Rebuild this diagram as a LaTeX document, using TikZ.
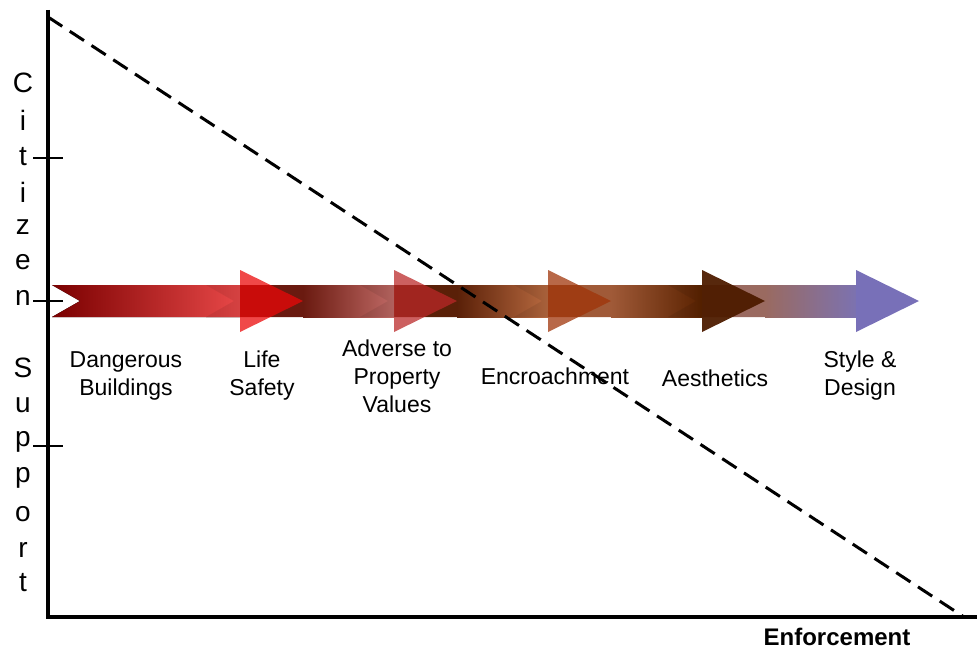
\documentclass[tikz,border=0pt]{standalone}
\usepackage{fontspec}
\setmainfont{Liberation Sans}
\definecolor{bAs}{HTML}{7A0000}\definecolor{bAe}{HTML}{E84848}
\definecolor{bBs}{HTML}{6A1A10}\definecolor{bBe}{HTML}{C06A66}
\definecolor{bCs}{HTML}{5A2008}\definecolor{bCe}{HTML}{B86A40}
\definecolor{bDs}{HTML}{A05A38}\definecolor{bDe}{HTML}{5A2200}
\definecolor{bEs}{HTML}{9A6A60}\definecolor{bEe}{HTML}{7C72B0}
\definecolor{hA}{HTML}{EB0808}\definecolor{hB}{HTML}{BA2828}
\definecolor{hC}{HTML}{9F3308}\definecolor{hD}{HTML}{4E1C00}
\definecolor{hE}{HTML}{7870B8}
\begin{document}
\begin{tikzpicture}[x=1pt,y=-1pt,
  axisline/.style={line width=4pt},
  tickline/.style={line width=1.1pt},
  dashline/.style={line width=3pt,dash pattern=on 17pt off 9pt},
  lbl/.style={font=\fontsize{23}{28}\selectfont,align=center,inner sep=0pt},
  axlet/.style={font=\fontsize{28}{30}\selectfont,inner sep=0pt},
  notchshade/.style={fill=black,fill opacity=0.08},
  headfill/.style={fill opacity=0.74}]
\useasboundingbox (0,0) rectangle (977,650);
% bodies, drawn from last to first
% arrow 5
\fill[bEs] (668,285) -- (766,285) -- (766,317) -- (668,317) -- (696,301) -- cycle;
\fill[left color=bEs,right color=bEe] (765,285) rectangle (856,317);
% arrow 4
\fill[bDs] (514,285) -- (612,285) -- (612,317) -- (514,317) -- (542,301) -- cycle;
\fill[left color=bDs,right color=bDe] (611,285) rectangle (702,317);
\fill[notchshade] (668,285) -- (702,285) -- (702,317) -- (668,317) -- (696,301) -- cycle;
% arrow 3
\fill[bCs] (360,285) -- (458,285) -- (458,317) -- (360,317) -- (388,301) -- cycle;
\fill[left color=bCs,right color=bCe] (457,285) rectangle (548,317);
\fill[notchshade] (514,285) -- (548,285) -- (548,317) -- (514,317) -- (542,301) -- cycle;
% arrow 2
\fill[bBs] (206,285) -- (304,285) -- (304,317) -- (206,317) -- (234,301) -- cycle;
\fill[left color=bBs,right color=bBe] (303,285) rectangle (394,317);
\fill[notchshade] (360,285) -- (394,285) -- (394,317) -- (360,317) -- (388,301) -- cycle;
% arrow 1
\fill[left color=bAs,right color=bAe] (52,285) -- (240,285) -- (240,317) -- (52,317) -- (80,301) -- cycle;
\fill[notchshade] (206,285) -- (240,285) -- (240,317) -- (206,317) -- (234,301) -- cycle;
% heads
\fill[hA,headfill] (240,270) -- (303,301) -- (240,332) -- cycle;
\fill[hB,headfill] (394,270) -- (457,301) -- (394,332) -- cycle;
\fill[hC,headfill] (548,270) -- (611,301) -- (548,332) -- cycle;
\fill[hD,fill opacity=0.95] (702,270) -- (765,301) -- (702,332) -- cycle;
\fill[hE] (856,270) -- (919,301) -- (856,332) -- cycle;
% axes
\coordinate (Ytop) at (48,10);
\coordinate (O) at (48,617);
\coordinate (Xend) at (977,617);
\draw[axisline] (Ytop) -- (O) -- (Xend);
\coordinate (T1a) at (33,158); \coordinate (T1b) at (63,158);
\coordinate (T2a) at (33,301); \coordinate (T2b) at (63,301);
\coordinate (T3a) at (33,446); \coordinate (T3b) at (63,446);
\draw[tickline] (T1a) -- (T1b);
\draw[tickline] (T2a) -- (T2b);
\draw[tickline] (T3a) -- (T3b);
% dashed line
\coordinate (D1) at (48,17);
\coordinate (D2) at (964,617);
\draw[dashline] (D1) -- (D2);
% axis letters
\node[axlet] (c1) at (23,83) {C};
\node[axlet] (c2) at (23,120) {i};
\node[axlet] (c3) at (23,157) {t};
\node[axlet] (c4) at (23,192) {i};
\node[axlet] (c5) at (23,227) {z};
\node[axlet] (c6) at (23,262) {e};
\node[axlet] (c7) at (23,298) {n};
\node[axlet] (s1) at (23,368) {S};
\node[axlet] (s2) at (23,405) {u};
\node[axlet] (s3) at (23,442) {p};
\node[axlet] (s4) at (23,478) {p};
\node[axlet] (s5) at (23,514) {o};
\node[axlet] (s6) at (23,550) {r};
\node[axlet] (s7) at (23,583) {t};
% labels
\node[lbl] (l1) at (126,376) {Dangerous\\Buildings};
\node[lbl] (l2) at (262,376) {Life\\Safety};
\node[lbl] (l3) at (397,376) {Adverse to\\Property\\Values};
\node[lbl] (l4) at (555,376) {Encroachment};
\node[lbl] (l5) at (715,378) {Aesthetics};
\node[lbl] (l6) at (860,376) {Style \&\\Design};
\node[font=\fontsize{24}{28}\selectfont\bfseries,inner sep=0pt] (xl) at (837,637) {Enforcement};
\end{tikzpicture}
\end{document}
